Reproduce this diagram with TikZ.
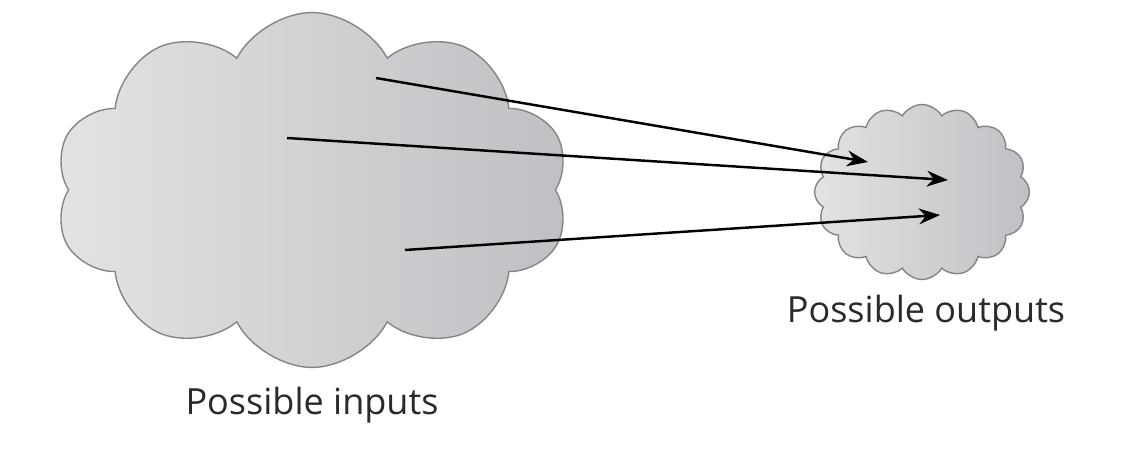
\documentclass[tikz,border=0pt]{standalone}
\usepackage{fontspec}
\setmainfont{Open Sans}
\usepackage{tikz}
\usetikzlibrary{shapes.symbols,arrows.meta,positioning}
\usepackage{xcolor}
\definecolor{CloudLight}{HTML}{E3E3E5}
\definecolor{CloudDark}{HTML}{C0C0C4}
\definecolor{CloudEdge}{HTML}{858585}
\definecolor{LabelGray}{HTML}{2A2A2A}

\tikzset{
    cloudfill/.style={cloud, draw=CloudEdge, line width=0.8pt,
        left color=CloudLight, right color=CloudDark, inner sep=0pt},
    mapsto/.style={line width=1.4pt, -{Stealth[length=12pt,width=9pt]}},
    label text/.style={font=\fontsize{20.5}{24}\selectfont, text=LabelGray}
}

\begin{document}
\begin{tikzpicture}[x=0.02cm,y=-0.02cm]
    \useasboundingbox (0,0) rectangle (1126,462);

    \node[cloudfill, cloud puffs=10, cloud puff arc=125, aspect=1.5,
        minimum width=10.3cm, minimum height=7.1cm] (In) at (312,190) {};
    \node[cloudfill, cloud puffs=16, cloud puff arc=120, aspect=1.25,
        minimum width=4.3cm, minimum height=3.5cm] (Out) at (922,192) {};

    \coordinate (A) at (376,78);
    \coordinate (B) at (287,138);
    \coordinate (C) at (405,250);
    \coordinate (D) at (868,162);
    \coordinate (E) at (948,180);
    \coordinate (F) at (940,215);

    \draw[mapsto] (A) -- (D);
    \draw[mapsto] (B) -- (E);
    \draw[mapsto] (C) -- (F);

    \node[label text] (InLabel) at (312,405) {Possible inputs};
    \node[label text] (OutLabel) at (926,313) {Possible outputs};
\end{tikzpicture}
\end{document}
